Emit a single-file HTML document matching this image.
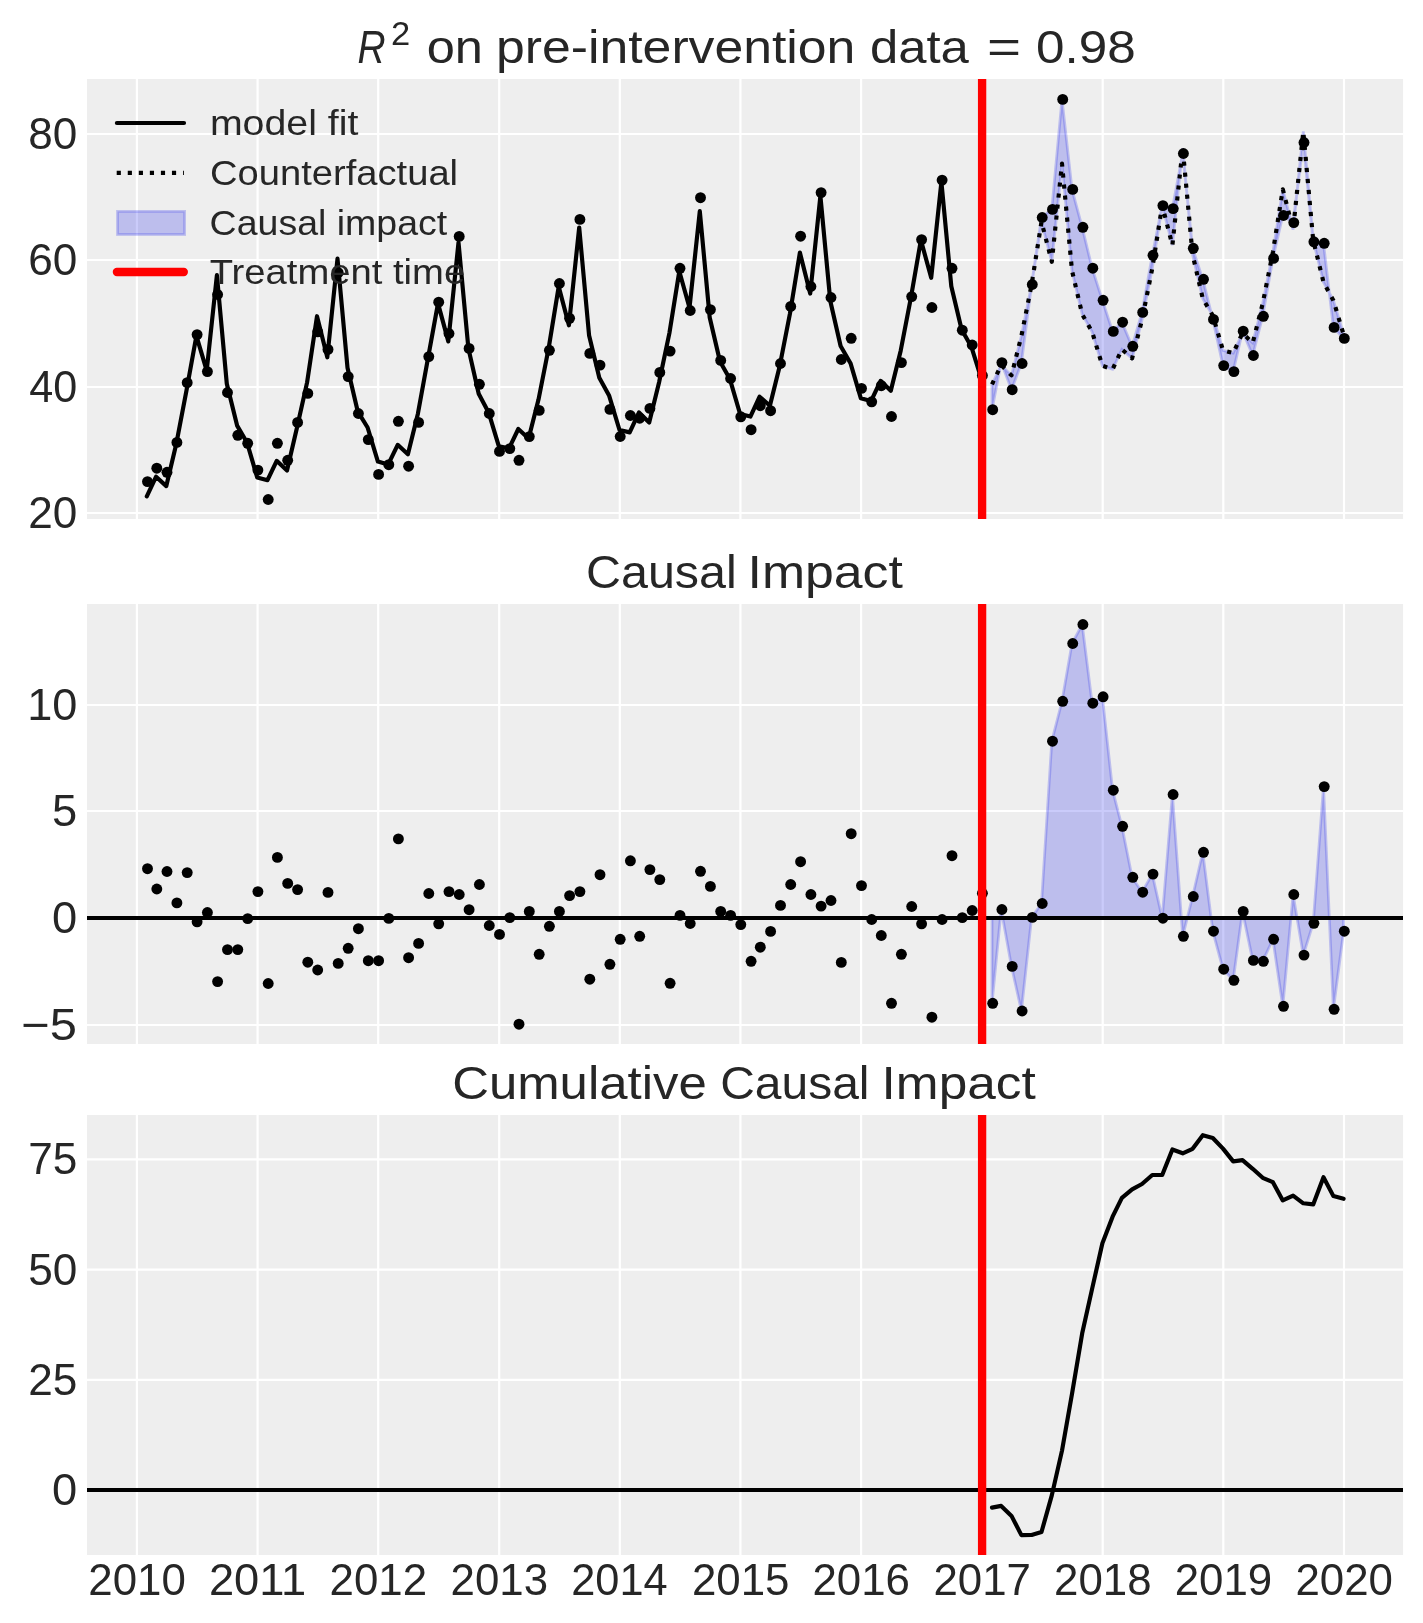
<!DOCTYPE html>
<html><head><meta charset="utf-8"><title>Causal impact</title>
<style>html,body{margin:0;padding:0;background:#fff}svg{display:block}</style></head>
<body>
<svg width="1423" height="1623" viewBox="0 0 1423 1623">
<rect x="0" y="0" width="1423" height="1623" fill="#ffffff"/>
<defs>
<clipPath id="c1"><rect x="87.0" y="79.0" width="1316.1" height="440.0"/></clipPath>
<clipPath id="c2"><rect x="87.0" y="604.0" width="1316.1" height="440.0"/></clipPath>
<clipPath id="c3"><rect x="87.0" y="1115.0" width="1316.1" height="440.0"/></clipPath>
<mask id="tm" maskUnits="userSpaceOnUse" x="0" y="0" width="1423" height="1623"><rect x="0" y="0" width="1423" height="1623" fill="#fff"/></mask>
</defs>
<rect x="87.0" y="79.0" width="1316.1" height="440.0" fill="#eeeeee"/>
<g clip-path="url(#c1)" stroke="#ffffff" stroke-width="2.2" fill="none">
<line x1="136.9" y1="79.0" x2="136.9" y2="519.0"/>
<line x1="257.6" y1="79.0" x2="257.6" y2="519.0"/>
<line x1="378.2" y1="79.0" x2="378.2" y2="519.0"/>
<line x1="499.2" y1="79.0" x2="499.2" y2="519.0"/>
<line x1="619.8" y1="79.0" x2="619.8" y2="519.0"/>
<line x1="740.4" y1="79.0" x2="740.4" y2="519.0"/>
<line x1="861.1" y1="79.0" x2="861.1" y2="519.0"/>
<line x1="982.1" y1="79.0" x2="982.1" y2="519.0"/>
<line x1="1102.7" y1="79.0" x2="1102.7" y2="519.0"/>
<line x1="1223.3" y1="79.0" x2="1223.3" y2="519.0"/>
<line x1="1344.0" y1="79.0" x2="1344.0" y2="519.0"/>
<line x1="87.0" y1="513.0" x2="1403.1" y2="513.0"/>
<line x1="87.0" y1="387.0" x2="1403.1" y2="387.0"/>
<line x1="87.0" y1="260.0" x2="1403.1" y2="260.0"/>
<line x1="87.0" y1="134.0" x2="1403.1" y2="134.0"/>
</g>
<g clip-path="url(#c1)">
<polygon points="992.0,409.7 1001.2,362.6 1011.5,389.7 1021.4,363.5 1031.6,284.5 1041.5,217.5 1051.8,209.4 1062.0,99.4 1072.0,189.4 1082.2,227.3 1092.1,268.2 1102.4,300.3 1112.6,331.4 1121.9,322.2 1132.1,346.3 1142.0,312.4 1152.3,255.3 1162.2,205.6 1172.4,208.6 1182.7,153.5 1192.6,248.3 1202.8,279.3 1212.8,319.4 1223.0,365.6 1233.2,371.6 1242.5,331.2 1252.7,355.5 1262.7,316.3 1272.9,258.4 1282.8,215.5 1293.1,222.6 1303.3,142.5 1313.2,241.8 1323.5,243.3 1333.4,327.4 1343.6,338.4 1343.6,334.5 1333.4,300.4 1323.5,282.2 1313.2,240.2 1303.3,131.5 1293.1,229.6 1282.8,189.3 1272.9,252.1 1262.7,303.5 1252.7,342.9 1242.5,333.2 1233.2,353.1 1223.0,350.4 1212.8,315.5 1202.8,298.8 1192.6,254.7 1182.7,148.1 1172.4,245.2 1162.2,205.5 1152.3,268.3 1142.0,320.0 1132.1,358.4 1121.9,349.4 1112.6,369.3 1102.4,365.8 1092.1,331.8 1082.2,314.3 1072.0,270.7 1062.0,163.6 1051.8,261.8 1041.5,221.8 1031.6,284.7 1021.4,335.9 1011.5,375.4 1001.2,365.1 992.0,384.4" fill="#2a2eec" fill-opacity="0.25" stroke="#2a2eec" stroke-opacity="0.25" stroke-width="2.78" stroke-linejoin="miter"/>
<g fill="#000">
<circle cx="147.5" cy="481.6" r="5.45"/>
<circle cx="156.8" cy="468.2" r="5.45"/>
<circle cx="167.0" cy="472.3" r="5.45"/>
<circle cx="176.9" cy="442.4" r="5.45"/>
<circle cx="187.2" cy="382.7" r="5.45"/>
<circle cx="197.1" cy="334.6" r="5.45"/>
<circle cx="207.4" cy="371.6" r="5.45"/>
<circle cx="217.6" cy="294.5" r="5.45"/>
<circle cx="227.5" cy="392.5" r="5.45"/>
<circle cx="237.8" cy="435.3" r="5.45"/>
<circle cx="247.7" cy="443.3" r="5.45"/>
<circle cx="257.9" cy="470.1" r="5.45"/>
<circle cx="268.2" cy="499.5" r="5.45"/>
<circle cx="277.4" cy="443.3" r="5.45"/>
<circle cx="287.7" cy="460.3" r="5.45"/>
<circle cx="297.6" cy="422.4" r="5.45"/>
<circle cx="307.8" cy="393.4" r="5.45"/>
<circle cx="317.7" cy="331.8" r="5.45"/>
<circle cx="328.0" cy="349.4" r="5.45"/>
<circle cx="338.2" cy="272.7" r="5.45"/>
<circle cx="348.2" cy="376.6" r="5.45"/>
<circle cx="358.4" cy="413.5" r="5.45"/>
<circle cx="368.3" cy="439.6" r="5.45"/>
<circle cx="378.6" cy="474.4" r="5.45"/>
<circle cx="388.8" cy="464.7" r="5.45"/>
<circle cx="398.4" cy="421.3" r="5.45"/>
<circle cx="408.6" cy="466.2" r="5.45"/>
<circle cx="418.6" cy="422.4" r="5.45"/>
<circle cx="428.8" cy="356.6" r="5.45"/>
<circle cx="438.7" cy="302.2" r="5.45"/>
<circle cx="449.0" cy="333.5" r="5.45"/>
<circle cx="459.2" cy="236.4" r="5.45"/>
<circle cx="469.1" cy="348.4" r="5.45"/>
<circle cx="479.4" cy="384.3" r="5.45"/>
<circle cx="489.3" cy="413.5" r="5.45"/>
<circle cx="499.5" cy="451.4" r="5.45"/>
<circle cx="509.8" cy="448.6" r="5.45"/>
<circle cx="519.0" cy="460.3" r="5.45"/>
<circle cx="529.3" cy="436.6" r="5.45"/>
<circle cx="539.2" cy="410.4" r="5.45"/>
<circle cx="549.4" cy="350.3" r="5.45"/>
<circle cx="559.4" cy="283.5" r="5.45"/>
<circle cx="569.6" cy="318.3" r="5.45"/>
<circle cx="579.9" cy="219.4" r="5.45"/>
<circle cx="589.8" cy="353.4" r="5.45"/>
<circle cx="600.0" cy="365.1" r="5.45"/>
<circle cx="609.9" cy="409.4" r="5.45"/>
<circle cx="620.2" cy="436.5" r="5.45"/>
<circle cx="630.4" cy="415.5" r="5.45"/>
<circle cx="639.7" cy="418.2" r="5.45"/>
<circle cx="649.9" cy="408.4" r="5.45"/>
<circle cx="659.8" cy="372.4" r="5.45"/>
<circle cx="670.1" cy="351.1" r="5.45"/>
<circle cx="680.0" cy="268.3" r="5.45"/>
<circle cx="690.2" cy="310.5" r="5.45"/>
<circle cx="700.5" cy="197.7" r="5.45"/>
<circle cx="710.4" cy="309.6" r="5.45"/>
<circle cx="720.7" cy="360.4" r="5.45"/>
<circle cx="730.6" cy="378.5" r="5.45"/>
<circle cx="740.8" cy="416.8" r="5.45"/>
<circle cx="751.1" cy="429.7" r="5.45"/>
<circle cx="760.3" cy="405.7" r="5.45"/>
<circle cx="770.6" cy="410.7" r="5.45"/>
<circle cx="780.5" cy="363.5" r="5.45"/>
<circle cx="790.7" cy="306.4" r="5.45"/>
<circle cx="800.6" cy="236.2" r="5.45"/>
<circle cx="810.9" cy="286.5" r="5.45"/>
<circle cx="821.1" cy="192.6" r="5.45"/>
<circle cx="831.0" cy="297.5" r="5.45"/>
<circle cx="841.3" cy="359.5" r="5.45"/>
<circle cx="851.2" cy="338.3" r="5.45"/>
<circle cx="861.5" cy="388.4" r="5.45"/>
<circle cx="871.7" cy="401.8" r="5.45"/>
<circle cx="881.3" cy="385.7" r="5.45"/>
<circle cx="891.5" cy="416.5" r="5.45"/>
<circle cx="901.4" cy="362.6" r="5.45"/>
<circle cx="911.7" cy="296.6" r="5.45"/>
<circle cx="921.6" cy="239.6" r="5.45"/>
<circle cx="931.9" cy="307.5" r="5.45"/>
<circle cx="942.1" cy="180.1" r="5.45"/>
<circle cx="952.0" cy="268.3" r="5.45"/>
<circle cx="962.3" cy="330.2" r="5.45"/>
<circle cx="972.2" cy="345.0" r="5.45"/>
<circle cx="982.4" cy="375.5" r="5.45"/>
<circle cx="992.7" cy="409.7" r="5.45"/>
<circle cx="1001.9" cy="362.6" r="5.45"/>
<circle cx="1012.2" cy="389.7" r="5.45"/>
<circle cx="1022.1" cy="363.5" r="5.45"/>
<circle cx="1032.3" cy="284.5" r="5.45"/>
<circle cx="1042.2" cy="217.5" r="5.45"/>
<circle cx="1052.5" cy="209.4" r="5.45"/>
<circle cx="1062.7" cy="99.4" r="5.45"/>
<circle cx="1072.7" cy="189.4" r="5.45"/>
<circle cx="1082.9" cy="227.3" r="5.45"/>
<circle cx="1092.8" cy="268.2" r="5.45"/>
<circle cx="1103.1" cy="300.3" r="5.45"/>
<circle cx="1113.3" cy="331.4" r="5.45"/>
<circle cx="1122.6" cy="322.2" r="5.45"/>
<circle cx="1132.8" cy="346.3" r="5.45"/>
<circle cx="1142.7" cy="312.4" r="5.45"/>
<circle cx="1153.0" cy="255.3" r="5.45"/>
<circle cx="1162.9" cy="205.6" r="5.45"/>
<circle cx="1173.1" cy="208.6" r="5.45"/>
<circle cx="1183.4" cy="153.5" r="5.45"/>
<circle cx="1193.3" cy="248.3" r="5.45"/>
<circle cx="1203.5" cy="279.3" r="5.45"/>
<circle cx="1213.5" cy="319.4" r="5.45"/>
<circle cx="1223.7" cy="365.6" r="5.45"/>
<circle cx="1233.9" cy="371.6" r="5.45"/>
<circle cx="1243.2" cy="331.2" r="5.45"/>
<circle cx="1253.4" cy="355.5" r="5.45"/>
<circle cx="1263.4" cy="316.3" r="5.45"/>
<circle cx="1273.6" cy="258.4" r="5.45"/>
<circle cx="1283.5" cy="215.5" r="5.45"/>
<circle cx="1293.8" cy="222.6" r="5.45"/>
<circle cx="1304.0" cy="142.5" r="5.45"/>
<circle cx="1313.9" cy="241.8" r="5.45"/>
<circle cx="1324.2" cy="243.3" r="5.45"/>
<circle cx="1334.1" cy="327.4" r="5.45"/>
<circle cx="1344.3" cy="338.4" r="5.45"/>
</g>
<polyline points="146.8,496.4 156.1,476.7 166.3,486.1 176.2,444.3 186.5,390.3 196.4,335.9 206.7,370.6 216.9,275.1 226.8,383.8 237.1,425.6 247.0,442.5 257.2,477.4 267.5,480.2 276.7,460.8 287.0,470.5 296.9,428.0 307.1,382.4 317.0,316.2 327.3,357.3 337.5,258.6 347.5,367.8 357.7,411.3 367.6,427.5 377.9,461.6 388.1,464.6 397.7,444.8 407.9,454.3 417.9,413.7 428.1,357.7 438.0,303.4 448.3,341.4 458.5,242.5 468.4,348.4 478.7,393.7 488.6,412.4 498.8,446.2 509.1,448.2 518.3,429.0 528.6,438.5 538.5,399.6 548.7,347.9 558.7,286.6 568.9,325.3 579.2,227.5 589.1,335.6 599.3,377.7 609.2,395.8 619.5,430.0 629.7,432.4 639.0,412.4 649.2,422.5 659.1,382.2 669.4,333.1 679.3,271.3 689.5,307.8 699.8,211.1 709.7,317.5 720.0,361.4 729.9,379.1 740.1,414.0 750.4,416.6 759.6,396.7 769.9,405.7 779.8,365.7 790.0,313.4 799.9,252.6 810.2,293.6 820.4,196.0 830.3,301.0 840.6,346.0 850.5,363.2 860.8,398.2 871.0,401.1 880.6,380.8 890.8,390.8 900.7,350.7 911.0,297.1 920.9,240.1 931.2,277.8 941.4,181.9 951.3,286.3 961.6,329.4 971.5,347.1 981.7,380.0" fill="none" stroke="#000" stroke-width="4.17" stroke-linejoin="round" stroke-linecap="round"/>
<polyline points="992.0,384.4 1001.2,365.1 1011.5,375.4 1021.4,335.9 1031.6,284.7 1041.5,221.8 1051.8,261.8 1062.0,163.6 1072.0,270.7 1082.2,314.3 1092.1,331.8 1102.4,365.8 1112.6,369.3 1121.9,349.4 1132.1,358.4 1142.0,320.0 1152.3,268.3 1162.2,205.5 1172.4,245.2 1182.7,148.1 1192.6,254.7 1202.8,298.8 1212.8,315.5 1223.0,350.4 1233.2,353.1 1242.5,333.2 1252.7,342.9 1262.7,303.5 1272.9,252.1 1282.8,189.3 1293.1,229.6 1303.3,131.5 1313.2,240.2 1323.5,282.2 1333.4,300.4 1343.6,334.5" fill="none" stroke="#000" stroke-width="4.17" stroke-linejoin="round" stroke-dasharray="4.17 6.88"/>
<line x1="982.1" y1="79.0" x2="982.1" y2="519.0" stroke="#ff0000" stroke-width="8.33"/>
</g>
<rect x="87.0" y="604.0" width="1316.1" height="440.0" fill="#eeeeee"/>
<g clip-path="url(#c2)" stroke="#ffffff" stroke-width="2.2" fill="none">
<line x1="136.9" y1="604.0" x2="136.9" y2="1044.0"/>
<line x1="257.6" y1="604.0" x2="257.6" y2="1044.0"/>
<line x1="378.2" y1="604.0" x2="378.2" y2="1044.0"/>
<line x1="499.2" y1="604.0" x2="499.2" y2="1044.0"/>
<line x1="619.8" y1="604.0" x2="619.8" y2="1044.0"/>
<line x1="740.4" y1="604.0" x2="740.4" y2="1044.0"/>
<line x1="861.1" y1="604.0" x2="861.1" y2="1044.0"/>
<line x1="982.1" y1="604.0" x2="982.1" y2="1044.0"/>
<line x1="1102.7" y1="604.0" x2="1102.7" y2="1044.0"/>
<line x1="1223.3" y1="604.0" x2="1223.3" y2="1044.0"/>
<line x1="1344.0" y1="604.0" x2="1344.0" y2="1044.0"/>
<line x1="87.0" y1="1025.0" x2="1403.1" y2="1025.0"/>
<line x1="87.0" y1="918.0" x2="1403.1" y2="918.0"/>
<line x1="87.0" y1="811.0" x2="1403.1" y2="811.0"/>
<line x1="87.0" y1="705.0" x2="1403.1" y2="705.0"/>
</g>
<g clip-path="url(#c2)">
<polygon points="992.0,918.0 1001.2,918.0 1011.5,918.0 1021.4,918.0 1031.6,918.0 1041.5,918.0 1051.8,918.0 1062.0,918.0 1072.0,918.0 1082.2,918.0 1092.1,918.0 1102.4,918.0 1112.6,918.0 1121.9,918.0 1132.1,918.0 1142.0,918.0 1152.3,918.0 1162.2,918.0 1172.4,918.0 1182.7,918.0 1192.6,918.0 1202.8,918.0 1212.8,918.0 1223.0,918.0 1233.2,918.0 1242.5,918.0 1252.7,918.0 1262.7,918.0 1272.9,918.0 1282.8,918.0 1293.1,918.0 1303.3,918.0 1313.2,918.0 1323.5,918.0 1333.4,918.0 1343.6,918.0 1343.6,931.2 1333.4,1009.3 1323.5,786.6 1313.2,923.3 1303.3,955.1 1293.1,894.5 1282.8,1006.3 1272.9,939.3 1262.7,961.3 1252.7,960.4 1242.5,911.4 1233.2,980.3 1223.0,969.2 1212.8,931.2 1202.8,852.3 1192.6,896.5 1182.7,936.3 1172.4,794.5 1162.2,918.2 1152.3,874.1 1142.0,892.2 1132.1,877.3 1121.9,826.3 1112.6,790.2 1102.4,696.8 1092.1,703.2 1082.2,624.5 1072.0,643.5 1062.0,701.3 1051.8,741.2 1041.5,903.5 1031.6,917.4 1021.4,1011.0 1011.5,966.4 1001.2,909.5 992.0,1003.3" fill="#2a2eec" fill-opacity="0.25" stroke="#2a2eec" stroke-opacity="0.25" stroke-width="2.78" stroke-linejoin="miter"/>
<g fill="#000">
<circle cx="147.5" cy="868.7" r="5.45"/>
<circle cx="156.8" cy="889.0" r="5.45"/>
<circle cx="167.0" cy="871.5" r="5.45"/>
<circle cx="176.9" cy="902.9" r="5.45"/>
<circle cx="187.2" cy="872.6" r="5.45"/>
<circle cx="197.1" cy="921.8" r="5.45"/>
<circle cx="207.4" cy="912.5" r="5.45"/>
<circle cx="217.6" cy="981.6" r="5.45"/>
<circle cx="227.5" cy="949.6" r="5.45"/>
<circle cx="237.8" cy="949.6" r="5.45"/>
<circle cx="247.7" cy="918.6" r="5.45"/>
<circle cx="257.9" cy="891.6" r="5.45"/>
<circle cx="268.2" cy="983.5" r="5.45"/>
<circle cx="277.4" cy="857.4" r="5.45"/>
<circle cx="287.7" cy="883.4" r="5.45"/>
<circle cx="297.6" cy="889.6" r="5.45"/>
<circle cx="307.8" cy="962.2" r="5.45"/>
<circle cx="317.7" cy="970.0" r="5.45"/>
<circle cx="328.0" cy="892.4" r="5.45"/>
<circle cx="338.2" cy="963.4" r="5.45"/>
<circle cx="348.2" cy="948.3" r="5.45"/>
<circle cx="358.4" cy="928.7" r="5.45"/>
<circle cx="368.3" cy="960.7" r="5.45"/>
<circle cx="378.6" cy="960.7" r="5.45"/>
<circle cx="388.8" cy="918.4" r="5.45"/>
<circle cx="398.4" cy="838.9" r="5.45"/>
<circle cx="408.6" cy="957.7" r="5.45"/>
<circle cx="418.6" cy="943.4" r="5.45"/>
<circle cx="428.8" cy="893.5" r="5.45"/>
<circle cx="438.7" cy="923.8" r="5.45"/>
<circle cx="449.0" cy="891.6" r="5.45"/>
<circle cx="459.2" cy="894.5" r="5.45"/>
<circle cx="469.1" cy="909.7" r="5.45"/>
<circle cx="479.4" cy="884.5" r="5.45"/>
<circle cx="489.3" cy="925.5" r="5.45"/>
<circle cx="499.5" cy="934.4" r="5.45"/>
<circle cx="509.8" cy="917.6" r="5.45"/>
<circle cx="519.0" cy="1024.2" r="5.45"/>
<circle cx="529.3" cy="911.4" r="5.45"/>
<circle cx="539.2" cy="954.3" r="5.45"/>
<circle cx="549.4" cy="926.3" r="5.45"/>
<circle cx="559.4" cy="911.4" r="5.45"/>
<circle cx="569.6" cy="895.6" r="5.45"/>
<circle cx="579.9" cy="891.6" r="5.45"/>
<circle cx="589.8" cy="979.2" r="5.45"/>
<circle cx="600.0" cy="874.7" r="5.45"/>
<circle cx="609.9" cy="964.3" r="5.45"/>
<circle cx="620.2" cy="939.3" r="5.45"/>
<circle cx="630.4" cy="860.8" r="5.45"/>
<circle cx="639.7" cy="936.3" r="5.45"/>
<circle cx="649.9" cy="869.6" r="5.45"/>
<circle cx="659.8" cy="879.6" r="5.45"/>
<circle cx="670.1" cy="983.3" r="5.45"/>
<circle cx="680.0" cy="915.4" r="5.45"/>
<circle cx="690.2" cy="923.5" r="5.45"/>
<circle cx="700.5" cy="871.3" r="5.45"/>
<circle cx="710.4" cy="886.4" r="5.45"/>
<circle cx="720.7" cy="911.4" r="5.45"/>
<circle cx="730.6" cy="915.4" r="5.45"/>
<circle cx="740.8" cy="924.6" r="5.45"/>
<circle cx="751.1" cy="961.3" r="5.45"/>
<circle cx="760.3" cy="947.2" r="5.45"/>
<circle cx="770.6" cy="931.4" r="5.45"/>
<circle cx="780.5" cy="905.4" r="5.45"/>
<circle cx="790.7" cy="884.5" r="5.45"/>
<circle cx="800.6" cy="861.7" r="5.45"/>
<circle cx="810.9" cy="894.5" r="5.45"/>
<circle cx="821.1" cy="906.1" r="5.45"/>
<circle cx="831.0" cy="900.5" r="5.45"/>
<circle cx="841.3" cy="962.4" r="5.45"/>
<circle cx="851.2" cy="833.7" r="5.45"/>
<circle cx="861.5" cy="885.6" r="5.45"/>
<circle cx="871.7" cy="919.5" r="5.45"/>
<circle cx="881.3" cy="935.5" r="5.45"/>
<circle cx="891.5" cy="1003.3" r="5.45"/>
<circle cx="901.4" cy="954.3" r="5.45"/>
<circle cx="911.7" cy="906.5" r="5.45"/>
<circle cx="921.6" cy="923.8" r="5.45"/>
<circle cx="931.9" cy="1017.2" r="5.45"/>
<circle cx="942.1" cy="919.5" r="5.45"/>
<circle cx="952.0" cy="855.7" r="5.45"/>
<circle cx="962.3" cy="917.6" r="5.45"/>
<circle cx="972.2" cy="910.5" r="5.45"/>
<circle cx="982.4" cy="893.3" r="5.45"/>
<circle cx="992.7" cy="1003.3" r="5.45"/>
<circle cx="1001.9" cy="909.5" r="5.45"/>
<circle cx="1012.2" cy="966.4" r="5.45"/>
<circle cx="1022.1" cy="1011.0" r="5.45"/>
<circle cx="1032.3" cy="917.4" r="5.45"/>
<circle cx="1042.2" cy="903.5" r="5.45"/>
<circle cx="1052.5" cy="741.2" r="5.45"/>
<circle cx="1062.7" cy="701.3" r="5.45"/>
<circle cx="1072.7" cy="643.5" r="5.45"/>
<circle cx="1082.9" cy="624.5" r="5.45"/>
<circle cx="1092.8" cy="703.2" r="5.45"/>
<circle cx="1103.1" cy="696.8" r="5.45"/>
<circle cx="1113.3" cy="790.2" r="5.45"/>
<circle cx="1122.6" cy="826.3" r="5.45"/>
<circle cx="1132.8" cy="877.3" r="5.45"/>
<circle cx="1142.7" cy="892.2" r="5.45"/>
<circle cx="1153.0" cy="874.1" r="5.45"/>
<circle cx="1162.9" cy="918.2" r="5.45"/>
<circle cx="1173.1" cy="794.5" r="5.45"/>
<circle cx="1183.4" cy="936.3" r="5.45"/>
<circle cx="1193.3" cy="896.5" r="5.45"/>
<circle cx="1203.5" cy="852.3" r="5.45"/>
<circle cx="1213.5" cy="931.2" r="5.45"/>
<circle cx="1223.7" cy="969.2" r="5.45"/>
<circle cx="1233.9" cy="980.3" r="5.45"/>
<circle cx="1243.2" cy="911.4" r="5.45"/>
<circle cx="1253.4" cy="960.4" r="5.45"/>
<circle cx="1263.4" cy="961.3" r="5.45"/>
<circle cx="1273.6" cy="939.3" r="5.45"/>
<circle cx="1283.5" cy="1006.3" r="5.45"/>
<circle cx="1293.8" cy="894.5" r="5.45"/>
<circle cx="1304.0" cy="955.1" r="5.45"/>
<circle cx="1313.9" cy="923.3" r="5.45"/>
<circle cx="1324.2" cy="786.6" r="5.45"/>
<circle cx="1334.1" cy="1009.3" r="5.45"/>
<circle cx="1344.3" cy="931.2" r="5.45"/>
</g>
<line x1="87.0" y1="918.0" x2="1403.1" y2="918.0" stroke="#000" stroke-width="4.17"/>
<line x1="982.1" y1="604.0" x2="982.1" y2="1044.0" stroke="#ff0000" stroke-width="8.33"/>
</g>
<rect x="87.0" y="1115.0" width="1316.1" height="440.0" fill="#eeeeee"/>
<g clip-path="url(#c3)" stroke="#ffffff" stroke-width="2.2" fill="none">
<line x1="136.9" y1="1115.0" x2="136.9" y2="1555.0"/>
<line x1="257.6" y1="1115.0" x2="257.6" y2="1555.0"/>
<line x1="378.2" y1="1115.0" x2="378.2" y2="1555.0"/>
<line x1="499.2" y1="1115.0" x2="499.2" y2="1555.0"/>
<line x1="619.8" y1="1115.0" x2="619.8" y2="1555.0"/>
<line x1="740.4" y1="1115.0" x2="740.4" y2="1555.0"/>
<line x1="861.1" y1="1115.0" x2="861.1" y2="1555.0"/>
<line x1="982.1" y1="1115.0" x2="982.1" y2="1555.0"/>
<line x1="1102.7" y1="1115.0" x2="1102.7" y2="1555.0"/>
<line x1="1223.3" y1="1115.0" x2="1223.3" y2="1555.0"/>
<line x1="1344.0" y1="1115.0" x2="1344.0" y2="1555.0"/>
<line x1="87.0" y1="1490.0" x2="1403.1" y2="1490.0"/>
<line x1="87.0" y1="1379.8" x2="1403.1" y2="1379.8"/>
<line x1="87.0" y1="1269.6" x2="1403.1" y2="1269.6"/>
<line x1="87.0" y1="1159.4" x2="1403.1" y2="1159.4"/>
</g>
<g clip-path="url(#c3)">
<polyline points="992.0,1507.6 1001.2,1505.9 1011.5,1515.9 1021.4,1535.1 1031.6,1535.0 1041.5,1532.0 1051.8,1495.4 1062.0,1450.6 1072.0,1393.9 1082.2,1333.3 1092.1,1288.9 1102.4,1243.2 1112.6,1216.7 1121.9,1197.8 1132.1,1189.4 1142.0,1184.0 1152.3,1175.0 1162.2,1175.0 1172.4,1149.5 1182.7,1153.3 1192.6,1148.8 1202.8,1135.2 1212.8,1138.0 1223.0,1148.6 1233.2,1161.4 1242.5,1160.1 1252.7,1168.8 1262.7,1177.8 1272.9,1182.2 1282.8,1200.4 1293.1,1195.6 1303.3,1203.3 1313.2,1204.4 1323.5,1177.2 1333.4,1196.1 1343.6,1198.8" fill="none" stroke="#000" stroke-width="4.17" stroke-linejoin="round" stroke-linecap="round"/>
<line x1="87.0" y1="1490.0" x2="1403.1" y2="1490.0" stroke="#000" stroke-width="4.17"/>
<line x1="982.1" y1="1115.0" x2="982.1" y2="1555.0" stroke="#ff0000" stroke-width="8.33"/>
</g>
<g fill="#262626" font-family="Liberation Sans, sans-serif" mask="url(#tm)">
<text x="28.3" y="528.0" font-size="44" textLength="49.1" lengthAdjust="spacingAndGlyphs">20</text>
<text x="29.3" y="402.0" font-size="44" textLength="48.0" lengthAdjust="spacingAndGlyphs">40</text>
<text x="28.3" y="275.0" font-size="44" textLength="49.1" lengthAdjust="spacingAndGlyphs">60</text>
<text x="28.3" y="149.0" font-size="44" textLength="49.1" lengthAdjust="spacingAndGlyphs">80</text>
<text x="21.2" y="1040.0" font-size="44" textLength="55.7" lengthAdjust="spacingAndGlyphs">−5</text>
<text x="52.1" y="933.0" font-size="44" textLength="25.2" lengthAdjust="spacingAndGlyphs">0</text>
<text x="52.1" y="826.0" font-size="44" textLength="25.2" lengthAdjust="spacingAndGlyphs">5</text>
<text x="27.2" y="720.0" font-size="44" textLength="50.2" lengthAdjust="spacingAndGlyphs">10</text>
<text x="52.1" y="1505.0" font-size="44" textLength="25.2" lengthAdjust="spacingAndGlyphs">0</text>
<text x="28.3" y="1394.8" font-size="44" textLength="49.1" lengthAdjust="spacingAndGlyphs">25</text>
<text x="28.3" y="1284.6" font-size="44" textLength="49.1" lengthAdjust="spacingAndGlyphs">50</text>
<text x="28.3" y="1174.4" font-size="44" textLength="49.1" lengthAdjust="spacingAndGlyphs">75</text>
<text x="88.3" y="1595.2" font-size="44" textLength="97.5" lengthAdjust="spacingAndGlyphs">2010</text>
<text x="208.9" y="1595.2" font-size="44" textLength="97.3" lengthAdjust="spacingAndGlyphs">2011</text>
<text x="329.6" y="1595.2" font-size="44" textLength="97.5" lengthAdjust="spacingAndGlyphs">2012</text>
<text x="450.6" y="1595.2" font-size="44" textLength="97.5" lengthAdjust="spacingAndGlyphs">2013</text>
<text x="571.2" y="1595.2" font-size="44" textLength="96.4" lengthAdjust="spacingAndGlyphs">2014</text>
<text x="691.9" y="1595.2" font-size="44" textLength="97.5" lengthAdjust="spacingAndGlyphs">2015</text>
<text x="812.5" y="1595.2" font-size="44" textLength="97.5" lengthAdjust="spacingAndGlyphs">2016</text>
<text x="933.5" y="1595.2" font-size="44" textLength="97.5" lengthAdjust="spacingAndGlyphs">2017</text>
<text x="1054.1" y="1595.2" font-size="44" textLength="97.5" lengthAdjust="spacingAndGlyphs">2018</text>
<text x="1174.7" y="1595.2" font-size="44" textLength="97.5" lengthAdjust="spacingAndGlyphs">2019</text>
<text x="1295.4" y="1595.2" font-size="44" textLength="97.5" lengthAdjust="spacingAndGlyphs">2020</text>
<text x="357.5" y="62.5" font-size="47" font-style="italic" textLength="28.1" lengthAdjust="spacingAndGlyphs">R</text>
<text x="391.0" y="44.8" font-size="33" textLength="19.2" lengthAdjust="spacingAndGlyphs">2</text>
<text x="426.7" y="62.5" font-size="47" textLength="56.2" lengthAdjust="spacingAndGlyphs">on</text>
<text x="496.0" y="62.5" font-size="47" textLength="359.4" lengthAdjust="spacingAndGlyphs">pre-intervention</text>
<text x="869.9" y="62.5" font-size="47" textLength="98.9" lengthAdjust="spacingAndGlyphs">data</text>
<text x="987.1" y="62.5" font-size="47" textLength="34.1" lengthAdjust="spacingAndGlyphs">=</text>
<text x="1036.0" y="62.5" font-size="47" textLength="99.7" lengthAdjust="spacingAndGlyphs">0.98</text>
<text x="586.0" y="587.6" font-size="47" textLength="150.7" lengthAdjust="spacingAndGlyphs">Causal</text>
<text x="747.5" y="587.6" font-size="47" textLength="155.4" lengthAdjust="spacingAndGlyphs">Impact</text>
<text x="452.2" y="1098.9" font-size="47" textLength="254.5" lengthAdjust="spacingAndGlyphs">Cumulative</text>
<text x="720.2" y="1098.9" font-size="47" textLength="149.3" lengthAdjust="spacingAndGlyphs">Causal</text>
<text x="881.6" y="1098.9" font-size="47" textLength="154.1" lengthAdjust="spacingAndGlyphs">Impact</text>
<text x="209.9" y="134.6" font-size="34.5" textLength="148.5" lengthAdjust="spacingAndGlyphs">model fit</text>
<text x="210.0" y="184.7" font-size="34.5" textLength="248.1" lengthAdjust="spacingAndGlyphs">Counterfactual</text>
<text x="209.6" y="234.8" font-size="34.5" textLength="237.6" lengthAdjust="spacingAndGlyphs">Causal impact</text>
<text x="209.7" y="284.0" font-size="34.5" textLength="255.5" lengthAdjust="spacingAndGlyphs">Treatment time</text>
</g>
<line x1="116.9" y1="123.0" x2="184.0" y2="123.0" stroke="#000" stroke-width="4.17" stroke-linecap="round"/>
<line x1="116.7" y1="172.9" x2="183.9" y2="172.9" stroke="#000" stroke-width="4.17" stroke-dasharray="4.17 6.88"/>
<rect x="117.5" y="211.4" width="67.1" height="23.1" fill="#2a2eec" fill-opacity="0.25" stroke="#2a2eec" stroke-opacity="0.25" stroke-width="2.78"/>
<line x1="116.9" y1="272.0" x2="183.8" y2="272.0" stroke="#ff0000" stroke-width="8.33" stroke-linecap="round"/>
</svg>
</body></html>
